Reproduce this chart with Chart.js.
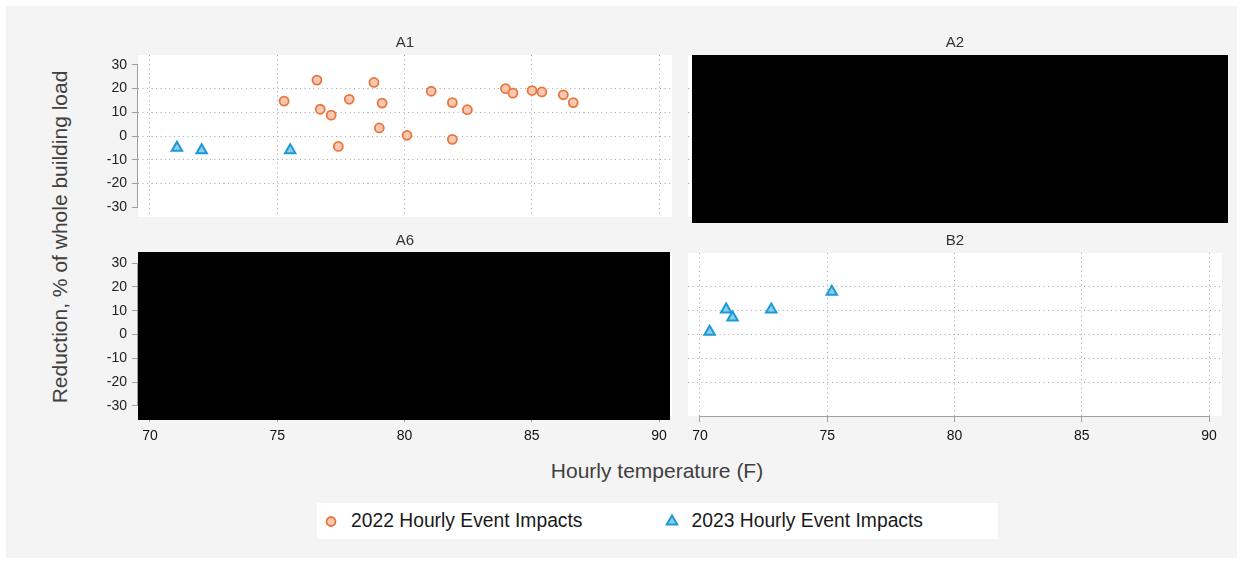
<!DOCTYPE html>
<html>
<head>
<meta charset="utf-8">
<script src="https://cdn.jsdelivr.net/npm/chart.js@4.4.1/dist/chart.umd.min.js"></script>
<style>
  body { margin: 0; background: #ffffff; font-family: Arial, "Liberation Sans", sans-serif; }
  #frame { position: absolute; left: 6px; top: 6px; width: 1231px; height: 552px; background: #f4f4f4; }
  canvas { position: absolute; }
  .axis-title { position: absolute; white-space: nowrap; font-size: 21px; color: #404040; transform: translate(-50%, -50%); }
  #ytitle { left: 60px; top: 237px; transform: translate(-50%, -50%) rotate(-90deg); }
  #xtitle { left: 657px; top: 471px; }
  #legend { position: absolute; left: 317px; top: 503px; width: 681px; height: 36px; background: #ffffff; display: flex; align-items: center; }
  .item { display: flex; align-items: center; width: 348px; }
  .item canvas { position: static; margin-left: 7px; margin-right: 13px; }
  .item span { font-size: 19.3px; color: #1a1a1a; }
</style>
</head>
<body>
<div id="frame"></div>
<canvas id="a1" width="634" height="203" style="left:88px;top:30px"></canvas>
<canvas id="a2" width="554" height="203" style="left:678px;top:30px"></canvas>
<canvas id="a6" width="634" height="218" style="left:88px;top:228px"></canvas>
<canvas id="b2" width="554" height="218" style="left:678px;top:228px"></canvas>
<div class="axis-title" id="ytitle">Reduction, % of whole building load</div>
<div class="axis-title" id="xtitle">Hourly temperature (F)</div>
<div id="legend"></div>

<script>
const xTicks = [70, 75, 80, 85, 90];
const yTicks = [-30, -20, -10, 0, 10, 20, 30];
const xRange = [69.53, 90.51];
const yRange = [-34.2, 34.2];
const seriesLabels = ['2022 Hourly Event Impacts', '2023 Hourly Event Impacts'];

// panel A1
const a1Temp2022 = [75.27, 76.56, 76.69, 77.12, 77.4, 77.83, 78.8, 79.12, 79.01, 80.1, 81.05, 81.88, 81.88, 82.47, 83.97, 84.26, 85.01, 85.4, 86.24, 86.63];
const a1Red2022 = [14.7, 23.6, 11.3, 8.8, -4.4, 15.5, 22.6, 13.9, 3.4, 0.3, 18.9, 14.1, -1.4, 11.1, 20.0, 18.1, 19.2, 18.6, 17.4, 14.1];
const a1Temp2023 = [71.06, 72.03, 75.51];
const a1Red2023 = [-5.0, -6.0, -6.0];

// panel B2
const b2Temp2023 = [70.38, 71.03, 71.28, 72.8, 75.18];
const b2Red2023 = [1.2, 10.5, 7.1, 10.5, 17.9];

const orange = '#e8763d';
const orangeFill = '#f9c8b2';
const blue = '#1b9bd6';
const blueFill = '#8fcdee';
const gridColor = 'rgba(150,150,150,0.85)';
const axisColor = '#a0a0a0';

Chart.defaults.font.family = 'Arial, "Liberation Sans", sans-serif';

const style2022 = {pointStyle: 'circle', pointRadius: 4.5, pointBorderWidth: 1.8, borderColor: orange, backgroundColor: orangeFill};
const style2023 = {pointStyle: 'triangle', pointRadius: 6, pointBorderWidth: 2, borderColor: blue, backgroundColor: blueFill};

function toPoints(xs, ys){
  let pts = [];
  xs.forEach((x, i) => {
    pts.push({x: x, y: ys[i]});
  });
  return pts;
}

const panelPlugin = {
  id: 'panel',
  beforeDraw(chart){
    let a = chart.chartArea;
    let ctx = chart.ctx;
    ctx.save();
    ctx.fillStyle = '#ffffff';
    ctx.fillRect(a.left, a.top, a.width, a.height);
    ctx.restore();
  },
  afterDatasetsDraw(chart, args, opts){
    let ctx = chart.ctx;
    ctx.save();
    ctx.strokeStyle = axisColor;
    ctx.lineWidth = 1;
    (opts.axes || []).forEach(id => {
      let s = chart.scales[id];
      ctx.beginPath();
      if (id === 'y') {
        let x = Math.round(s.right) - 0.5;
        ctx.moveTo(x, s.getPixelForValue(yTicks[yTicks.length - 1]));
        ctx.lineTo(x, s.getPixelForValue(yTicks[0]));
      } else {
        let y = Math.round(s.top) + 0.5;
        ctx.moveTo(s.getPixelForValue(xTicks[0]), y);
        ctx.lineTo(s.getPixelForValue(xTicks[xTicks.length - 1]), y);
      }
      ctx.stroke();
    });
    ctx.restore();
  },
  afterDraw(chart, args, opts){
    if (!opts.redact) return;
    let a = chart.chartArea;
    let r = opts.redact;
    let ctx = chart.ctx;
    ctx.save();
    ctx.fillStyle = '#000000';
    ctx.fillRect(a.left + r[0], a.top + r[1], a.width - r[0] + r[2], a.height - r[1] + r[3]);
    ctx.restore();
  }
};

function drawPanel(id, name, datasets, showY, showX, redact){
  let axes = [];
  if (showY) axes.push('y');
  if (showX) axes.push('x');
  let side = showY ? 50 : 10;
  return new Chart(document.getElementById(id), {
    type: 'scatter',
    data: {datasets: datasets},
    plugins: [panelPlugin],
    options: {
      responsive: false,
      maintainAspectRatio: false,
      animation: false,
      layout: {autoPadding: false, padding: {left: 0, right: side, top: 0, bottom: 0}},
      plugins: {
        legend: {display: false},
        tooltip: {enabled: false},
        title: {
          display: true,
          fullSize: false,
          text: name,
          color: '#333333',
          font: {size: 15, weight: 'normal'},
          padding: {top: 4, bottom: 3}
        },
        panel: {axes: axes, redact: redact}
      },
      scales: {
        x: {
          type: 'linear',
          min: xRange[0],
          max: xRange[1],
          afterBuildTicks: s => { s.ticks = xTicks.map(v => ({value: v})); },
          afterFit: s => { s.height = showX ? 30 : 16; },
          border: {display: false, dash: [1, 3.5]},
          grid: {
            color: gridColor,
            lineWidth: 1,
            drawTicks: showX,
            tickLength: 6,
            tickColor: axisColor,
            tickBorderDash: []
          },
          ticks: {
            display: showX,
            autoSkip: false,
            maxRotation: 0,
            padding: 6,
            color: '#111111',
            font: {size: 14}
          }
        },
        y: {
          type: 'linear',
          min: yRange[0],
          max: yRange[1],
          afterBuildTicks: s => { s.ticks = yTicks.map(v => ({value: v})); },
          afterFit: s => { s.width = side; },
          border: {display: false, dash: [1, 3.5]},
          grid: {
            color: c => (c.tick && Math.abs(c.tick.value) === 30) ? 'rgba(0,0,0,0)' : gridColor,
            lineWidth: 1,
            drawTicks: showY,
            tickLength: 6,
            tickColor: axisColor,
            tickBorderDash: []
          },
          ticks: {
            display: showY,
            autoSkip: false,
            padding: 5,
            color: '#222222',
            font: {size: 14}
          }
        }
      }
    }
  });
}

drawPanel('a1', 'A1', [
  Object.assign({label: seriesLabels[0], data: toPoints(a1Temp2022, a1Red2022)}, style2022),
  Object.assign({label: seriesLabels[1], data: toPoints(a1Temp2023, a1Red2023)}, style2023)
], true, false, null);

drawPanel('a2', 'A2', [], false, false, [4, 0, 6, 6]);

drawPanel('a6', 'A6', [], true, true, [0, -1, -2, 4]);

drawPanel('b2', 'B2', [
  Object.assign({label: seriesLabels[1], data: toPoints(b2Temp2023, b2Red2023)}, style2023)
], false, true, null);

function drawLegend(){
  let legend = document.getElementById('legend');
  [style2022, style2023].forEach((st, i) => {
    let item = document.createElement('div');
    item.className = 'item';
    let c = document.createElement('canvas');
    c.width = 14;
    c.height = 14;
    let ctx = c.getContext('2d');
    ctx.strokeStyle = st.borderColor;
    ctx.fillStyle = st.backgroundColor;
    ctx.lineWidth = st.pointBorderWidth;
    Chart.helpers.drawPoint(ctx, {pointStyle: st.pointStyle, radius: st.pointRadius, borderWidth: st.pointBorderWidth, rotation: 0}, 7, 7.5);
    let label = document.createElement('span');
    label.textContent = seriesLabels[i];
    item.appendChild(c);
    item.appendChild(label);
    legend.appendChild(item);
  });
}

drawLegend();
</script>
</body>
</html>
